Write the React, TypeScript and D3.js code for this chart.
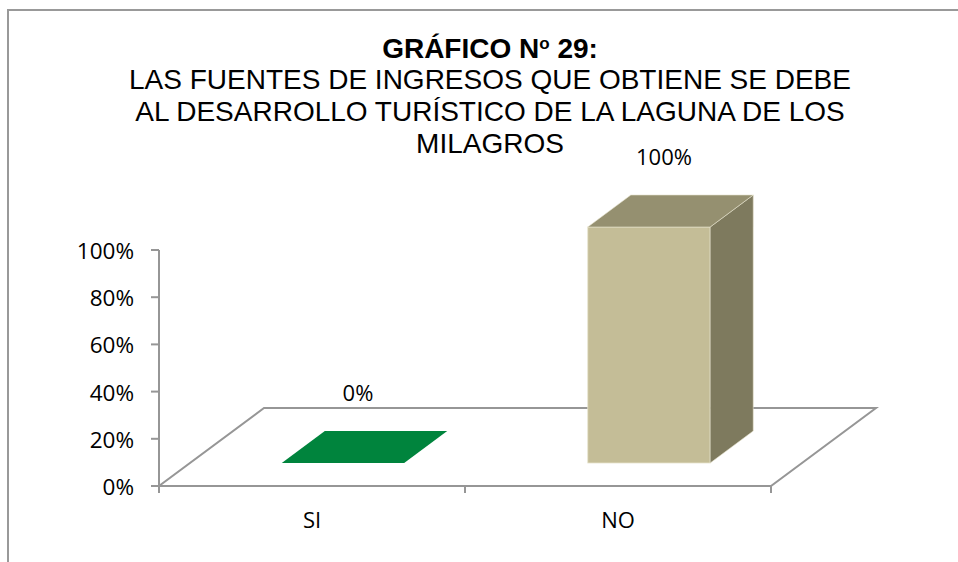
import React from "react";
import * as d3 from "d3";

const categories = ["SI", "NO"];
const values = [0, 1];
const valueLabels = ["0%", "100%"];
const yTicks = [0, 0.2, 0.4, 0.6, 0.8, 1];
const titleBold = "GRÁFICO N";
const titleLines = [
  "LAS FUENTES DE INGRESOS QUE OBTIENE SE DEBE",
  "AL DESARROLLO TURÍSTICO DE LA LAGUNA DE LOS",
  "MILAGROS",
];

const W = 958;
const H = 562;

export default function App() {
  const x0 = 159, x1 = 771, yBase = 486, yTop = 250;
  const depth = { dx: 105, dy: -78 };
  const x = d3.scaleBand<string>().domain(categories).range([x0, x1]).padding(0);
  const y = d3.scaleLinear().domain([0, 1]).range([yBase, yTop]);
  const fmt = d3.format(".0%");
  const barFrac = 0.4;
  const dFront = 0.295, dBack = 0.705;

  const floor = [
    [x0, yBase],
    [x1, yBase],
    [x1 + depth.dx, yBase + depth.dy],
    [x0 + depth.dx, yBase + depth.dy],
  ];
  const line = d3.line();
  const grey = "#969696";

  const colors = [
    { front: "#00843D", top: "#00843D", side: "#006B31" },
    { front: "#C4BD97", top: "#959070", side: "#7E7A5E" },
  ];

  return (
    <svg
      width={W}
      height={H}
      style={{ position: "absolute", left: 0, top: 0, background: "#fff" }}
    >
      <rect x={8} y={10} width={1200} height={800} fill="#fff" stroke="#999" strokeWidth={2} />

      <text x={490} y={58} textAnchor="middle" fontFamily="Liberation Sans, Arial" fontWeight="bold" fontSize={28}>
        {titleBold}
        <tspan fontSize={17} dy={-9}>o</tspan>
        <tspan dy={9}> 29:</tspan>
      </text>
      {titleLines.map((t, i) => (
        <text key={i} x={490} y={89 + i * 32} textAnchor="middle" fontFamily="Liberation Sans, Arial" fontSize={28}>
          {t}
        </text>
      ))}

      {/* floor */}
      <path d={line(floor as [number, number][]) + "Z"} fill="#fff" stroke={grey} strokeWidth={2} />

      {/* y axis */}
      <line x1={x0} y1={yTop} x2={x0} y2={yBase + 7} stroke={grey} strokeWidth={2} />
      {yTicks.map((t) => (
        <g key={t}>
          <line x1={x0 - 8} x2={x0} y1={y(t)} y2={y(t)} stroke={grey} strokeWidth={2} />
          <text x={134} y={y(t) + 9} textAnchor="end" fontFamily="Open Sans" fontSize={22.5} fill="#000">
            {fmt(t)}
          </text>
        </g>
      ))}
      {/* x ticks */}
      {[x0, x0 + x.bandwidth(), x1].map((t, i) => (
        <line key={i} x1={t} x2={t} y1={yBase} y2={yBase + 7} stroke={grey} strokeWidth={2} />
      ))}
      {categories.map((c) => (
        <text key={c} x={(x(c) as number) + x.bandwidth() / 2} y={528} textAnchor="middle" fontFamily="Open Sans" fontSize={22}>
          {c}
        </text>
      ))}

      {/* bars */}
      {categories.map((c, i) => {
        const cx = (x(c) as number) + x.bandwidth() / 2;
        const bw = x.bandwidth() * barFrac;
        const fx = dFront * depth.dx, fy = dFront * depth.dy;
        const bx = dBack * depth.dx, by = dBack * depth.dy;
        const l = cx - bw / 2 + fx, r = cx + bw / 2 + fx;
        const bottom = y(0) + fy;
        const top = y(values[i]) + fy;
        const ox = bx - fx, oy = by - fy;
        const col = colors[i];
        const h = bottom - top;
        const topFace: [number, number][] = [[l, top], [r, top], [r + ox, top + oy], [l + ox, top + oy]];
        const side: [number, number][] = [[r, top], [r + ox, top + oy], [r + ox, bottom + oy], [r, bottom]];
        return (
          <g key={c}>
            {h > 0.5 && <rect x={l} y={top} width={r - l} height={h} fill={col.front} stroke="#E6E2CC" strokeWidth={0.8} />}
            {h > 0.5 && <path d={line(side) + "Z"} fill={col.side} stroke="#E6E2CC" strokeWidth={0.6} />}
            <path d={line(topFace) + "Z"} fill={col.top} stroke={h > 0.5 ? "#E6E2CC" : "none"} strokeWidth={0.6} />
            <text x={cx + fx + 15} y={top - 62} textAnchor="middle" fontFamily="Open Sans" fontSize={22}>
              {valueLabels[i]}
            </text>
          </g>
        );
      })}
    </svg>
  );
}
